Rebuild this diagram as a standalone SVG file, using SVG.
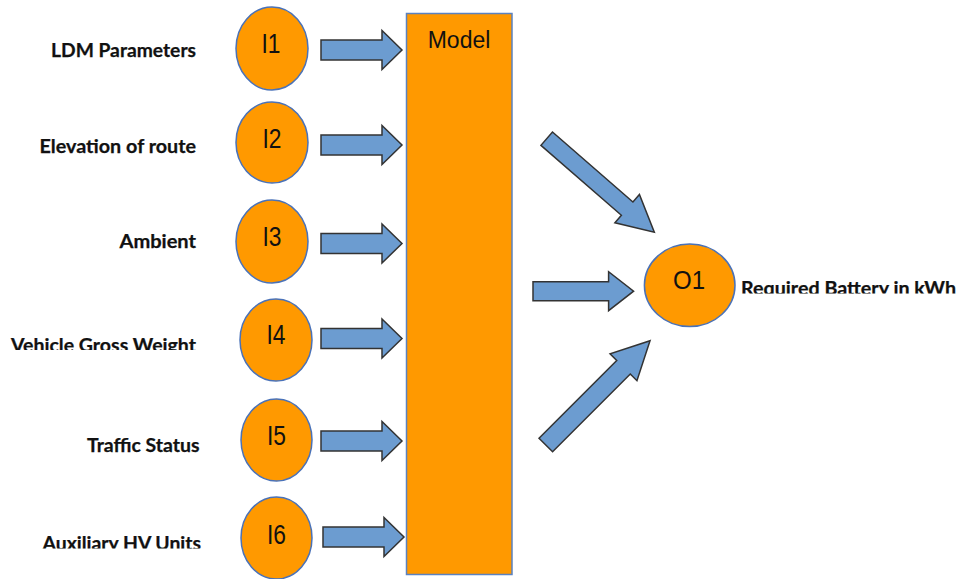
<svg xmlns="http://www.w3.org/2000/svg" xmlns:xlink="http://www.w3.org/1999/xlink" width="961" height="579" viewBox="0 0 961 579">
  <style>
    .node { fill: #FF9900; stroke: #4A72B8; stroke-width: 1.5; }
    .box { fill: #FF9900; stroke: #5B82C0; stroke-width: 1.5; }
    .arrow { fill: #6C9CD0; stroke: #333333; stroke-width: 1.5; stroke-linejoin: miter; }
    .id { font-family: "Liberation Sans", Arial, sans-serif; font-size: 24px; fill: #111111; text-anchor: middle; }
    .label { font-family: Lato, "Open Sans", sans-serif; font-weight: bold; font-size: 18.5px; fill: #111111; stroke: #111111; stroke-width: 0.25; }
  </style>
  <defs>
    <!-- block arrow pointing right, tail at origin -->
    <path id="arrowIn" d="M0,-10 H61 V-19.5 L81,0 L61,19.5 V10 H0 Z"/>
    <clipPath id="clipVehicle"><rect x="0" y="320" width="210" height="30"/></clipPath>
    <clipPath id="clipAux"><rect x="0" y="520" width="210" height="28.5"/></clipPath>
    <clipPath id="clipBattery"><rect x="735" y="265" width="226" height="28.5"/></clipPath>
  </defs>

  <rect width="961" height="579" fill="#FFFFFF"/>

  <!-- input labels -->
  <g id="labels">
    <text class="label" x="51" y="57.3" textLength="145" lengthAdjust="spacingAndGlyphs">LDM Parameters</text>
    <text class="label" x="39.5" y="153.3" textLength="156.5" lengthAdjust="spacingAndGlyphs">Elevation of route</text>
    <text class="label" x="119.5" y="248.3" textLength="76.5" lengthAdjust="spacingAndGlyphs">Ambient</text>
    <text class="label" x="11" y="351.5" textLength="185" lengthAdjust="spacingAndGlyphs" clip-path="url(#clipVehicle)">Vehicle Gross Weight</text>
    <text class="label" x="87" y="451.7" textLength="112.5" lengthAdjust="spacingAndGlyphs">Traffic Status</text>
    <text class="label" x="42.5" y="550" textLength="158.5" lengthAdjust="spacingAndGlyphs" clip-path="url(#clipAux)">Auxiliary HV Units</text>
  </g>

  <!-- input nodes (labels slightly stretched vertically) -->
  <g id="I1"><ellipse class="node" cx="272" cy="48.5" rx="36" ry="41.5"/><text class="id" transform="translate(271,52.5) scale(0.95,1.15)">I1</text></g>
  <g id="I2"><ellipse class="node" cx="272" cy="142.5" rx="36" ry="40.5"/><text class="id" transform="translate(272,147.5) scale(0.95,1.15)">I2</text></g>
  <g id="I3"><ellipse class="node" cx="272" cy="241.5" rx="36" ry="41.5"/><text class="id" transform="translate(272,245.5) scale(0.95,1.15)">I3</text></g>
  <g id="I4"><ellipse class="node" cx="276" cy="340" rx="36" ry="41"/><text class="id" transform="translate(276,343.5) scale(0.95,1.15)">I4</text></g>
  <g id="I5"><ellipse class="node" cx="276.5" cy="440" rx="35.5" ry="41"/><text class="id" transform="translate(276.5,444.5) scale(0.95,1.15)">I5</text></g>
  <g id="I6"><ellipse class="node" cx="276.5" cy="538" rx="35.5" ry="41"/><text class="id" transform="translate(276.5,543.5) scale(0.95,1.15)">I6</text></g>

  <!-- model block -->
  <g id="Model">
    <rect class="box" x="406.5" y="13.5" width="105.5" height="561"/>
    <text class="id" transform="translate(459,48.3) scale(1,1.08)" style="font-size:23px">Model</text>
  </g>

  <!-- output node -->
  <g id="O1">
    <ellipse class="node" cx="689.7" cy="285.3" rx="45.3" ry="41.3"/>
    <text class="id" transform="translate(689,288.5) scale(1,1.1)">O1</text>
    <text class="label" x="741" y="295" textLength="215" lengthAdjust="spacingAndGlyphs" clip-path="url(#clipBattery)">Required Battery in kWh</text>
  </g>

  <!-- connectors -->
  <g id="connectors">
    <use xlink:href="#arrowIn" class="arrow" x="321" y="50"/>
    <use xlink:href="#arrowIn" class="arrow" x="321" y="145"/>
    <use xlink:href="#arrowIn" class="arrow" x="321" y="243.5"/>
    <use xlink:href="#arrowIn" class="arrow" x="321" y="338.5"/>
    <use xlink:href="#arrowIn" class="arrow" x="321" y="441"/>
    <use xlink:href="#arrowIn" class="arrow" x="323" y="537"/>
    <path class="arrow" transform="translate(546.7,138.7) rotate(41)" d="M0,-8.8 H106.6 V-18.7 L142.6,0 L106.6,18.7 V8.8 H0 Z"/>
    <path class="arrow" transform="translate(533,291.2)" d="M0,-9.5 H75.6 V-19.5 L100.6,0 L75.6,19.5 V9.5 H0 Z"/>
    <path class="arrow" transform="translate(545.8,445) rotate(-45)" d="M0,-9.6 H109.9 V-19 L147.4,0 L109.9,19 V9.6 H0 Z"/>
  </g>
</svg>
